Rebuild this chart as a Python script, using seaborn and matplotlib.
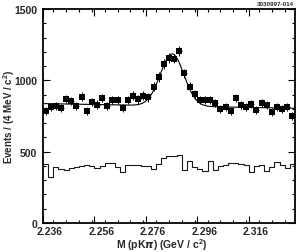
import numpy as np
import pandas as pd
import matplotlib
matplotlib.use("Agg")
import matplotlib.pyplot as plt
import matplotlib.transforms as mtransforms
from matplotlib.ticker import MultipleLocator, FixedLocator
import seaborn as sns

# ---- data ----
bin_lo = 2.236
bin_w = 0.002
n_bins = 49
mass_centers = [round(bin_lo + bin_w * (i + 0.5), 4) for i in range(n_bins)]

signal_counts = [783, 816, 818, 806, 869, 853, 820, 886, 785, 846,
                 830, 878, 820, 862, 862, 806, 862, 893, 867, 893,
                 881, 956, 1023, 1114, 1159, 1152, 1205, 1049, 956, 902,
                 862, 862, 862, 841, 799, 813, 783, 878, 827, 813,
                 836, 792, 843, 825, 776, 816, 801, 816, 750]

sideband_counts = [414, 325, 390, 376, 369, 386, 395, 400, 404, 402,
                   386, 402, 420, 420, 390, 357, 409, 409, 409, 402,
                   397, 379, 414, 454, 468, 468, 479, 371, 437, 390,
                   381, 367, 433, 371, 397, 409, 420, 418, 414, 409,
                   357, 402, 406, 362, 395, 428, 409, 383, 414]

# fit parameters (gaussian + linear background)
fit_mean = 2.2862
fit_sigma = 0.00460
fit_amp = 365.0
bkg_left = 837.0
bkg_right = 804.0

x_ticks = [2.236, 2.256, 2.276, 2.296, 2.316]
x_tick_labels = ["2.236", "2.256", "2.276", "2.296", "2.316"]
y_ticks = [0, 500, 1000, 1500]

# ---- figure ----
sns.set_theme(style="ticks")
plt.rcParams["font.family"] = ["Liberation Sans", "DejaVu Sans"]
plt.rcParams["font.weight"] = "bold"
plt.rcParams["mathtext.default"] = "regular"

fig = plt.figure(figsize=(3.01, 2.53), dpi=100)
ax = fig.add_axes([43 / 301, 1 - 224 / 253, 252 / 301, 214 / 253])

x_lo = bin_lo
x_hi = bin_lo + bin_w * n_bins

df = pd.DataFrame({"mass": mass_centers, "signal": signal_counts,
                   "sideband": sideband_counts})

# sideband histogram
edges = [bin_lo + bin_w * i for i in range(n_bins + 1)]
sns.histplot(data=df, x="mass", weights="sideband", bins=edges,
             element="step", fill=False, color="#1a1a1a", linewidth=0.8,
             ax=ax)

# fit curve
xf = np.linspace(x_lo, x_hi, 400)
bkg = bkg_left + (bkg_right - bkg_left) * (xf - x_lo) / (x_hi - x_lo)
yf = bkg + fit_amp * np.exp(-0.5 * ((xf - fit_mean) / fit_sigma) ** 2)
sns.lineplot(x=xf, y=yf, color="black", linewidth=0.8, ax=ax)

# data points with error bars
ax.errorbar(df["mass"], df["signal"], yerr=np.sqrt(df["signal"]),
            xerr=bin_w / 2, fmt="none", ecolor="black", elinewidth=0.7,
            capsize=0)
sns.scatterplot(data=df, x="mass", y="signal", marker="s", s=13,
                color="black", edgecolor="black", linewidth=0, ax=ax,
                zorder=5)

ax.set_xlim(x_lo, x_hi)
ax.set_ylim(0, 1500)
ax.xaxis.set_major_locator(FixedLocator(x_ticks))
ax.set_xticklabels(x_tick_labels)
ax.xaxis.set_minor_locator(MultipleLocator(0.005))
ax.yaxis.set_major_locator(FixedLocator(y_ticks))
ax.yaxis.set_minor_locator(MultipleLocator(100))

ax.tick_params(which="both", direction="in", top=True, right=True,
               color="black", width=0.8, labelsize=7.5)
ax.tick_params(axis="x", pad=2.5)
ax.tick_params(axis="y", pad=4)
ax.tick_params(which="major", length=5)
ax.tick_params(which="minor", length=2.5)
for lab in ax.get_xticklabels() + ax.get_yticklabels():
    lab.set_fontweight("bold")
# shift x tick labels slightly to the right as in the reference
offset = mtransforms.ScaledTranslation(7 / 100, 0, fig.dpi_scale_trans)
for lab in ax.get_xticklabels():
    lab.set_transform(lab.get_transform() + offset)

for sp in ax.spines.values():
    sp.set_linewidth(1.3)
    sp.set_color("black")

ax.set_xlabel(r"M (pK$\mathit{\pi}$) (GeV / c$^{2}$)", fontsize=7.5,
              fontweight="bold")
ax.xaxis.set_label_coords(0.472, -0.064)
ax.set_ylabel(r"Events / (4 MeV / c$^{2}$)", fontsize=7,
              fontweight="bold")
ax.yaxis.set_label_coords(-0.105, 0.5)

fig.text(0.977, 0.992, "3030997-014", ha="right", va="top", fontsize=4.5,
         fontweight="bold")

fig.savefig("out.png", dpi=100)
